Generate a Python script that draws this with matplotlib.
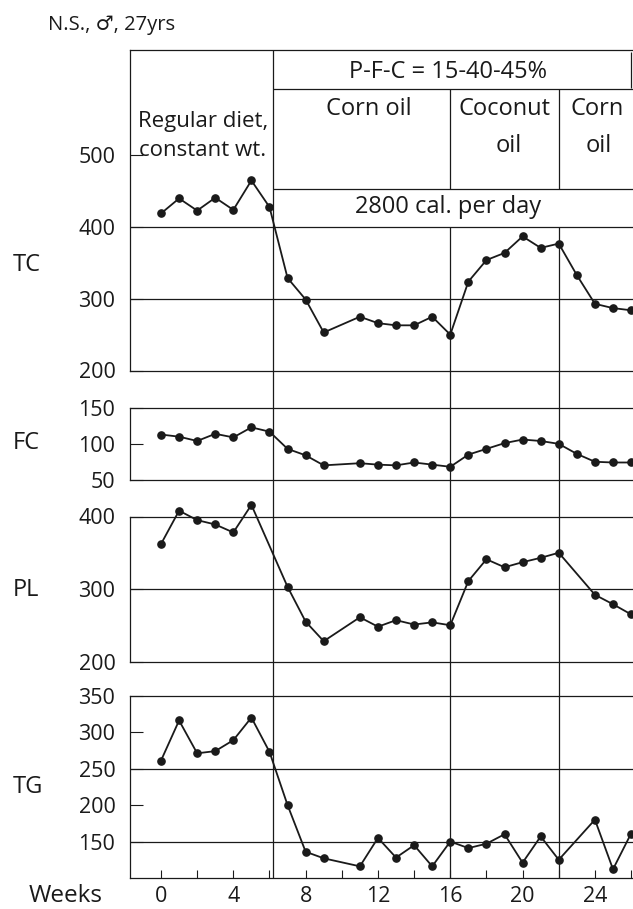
import matplotlib
matplotlib.use("Agg")
import matplotlib.pyplot as plt

plt.rcParams['font.family'] = ['Open Sans', 'DejaVu Sans']

# figure size in pixels and the week -> pixel mapping
W, H = 633, 909
PX0, PXW = 161.0, 18.08      # x pixel of week 0, pixels per week
AX_LEFT = 130                # left edge of the panels (px)

# --- data ---------------------------------------------------------------
weeks_tc = [0, 1, 2, 3, 4, 5, 6, 7, 8, 9, 11, 12, 13, 14, 15, 16, 17, 18,
            19, 20, 21, 22, 23, 24, 25, 26]
tc = [419, 440, 423, 441, 424, 465, 428, 329, 299, 253, 275, 266, 263, 263,
      275, 250, 324, 354, 364, 387, 371, 377, 333, 293, 287, 284]

weeks_fc = weeks_tc
fc = [113, 110, 104, 114, 109, 123, 117, 93, 84, 70, 73, 71, 70, 74, 71, 68,
      85, 93, 101, 106, 104, 100, 86, 75, 74, 74]

weeks_pl = [0, 1, 2, 3, 4, 5, 7, 8, 9, 11, 12, 13, 14, 15, 16, 17, 18, 19,
            20, 21, 22, 24, 25, 26]
pl = [362, 408, 395, 389, 378, 416, 303, 255, 228, 261, 248, 257, 251, 254,
      250, 311, 341, 330, 337, 343, 350, 292, 279, 265]

weeks_tg = [0, 1, 2, 3, 4, 5, 6, 7, 8, 9, 11, 12, 13, 14, 15, 16, 17, 18, 19,
            20, 21, 22, 24, 25, 26]
tg = [261, 316, 271, 274, 289, 320, 273, 200, 136, 127, 116, 155, 128, 145,
      116, 150, 141, 147, 160, 121, 157, 125, 180, 112, 161]

diet_breaks = [6.2, 16, 22]   # weeks where the diet changes
x_labels = [0, 4, 8, 12, 16, 20, 24]

# name, weeks, values, top px, bottom px, ylim, labelled ticks, grid lines, label y px
panels = [
    ("TC", weeks_tc, tc, 50, 370.5, (200, 647), [200, 300, 400, 500], [300, 400], 265),
    ("FC", weeks_fc, fc, 408, 479.7, (50, 150), [50, 100, 150], [], 443),
    ("PL", weeks_pl, pl, 516.5, 661.5, (200, 400), [200, 300, 400], [300], 590),
    ("TG", weeks_tg, tg, 695.7, 878, (100, 350), [150, 200, 250, 300, 350], [150, 250], 787),
]

INK = "#1a1a1a"
FS_TICK = 15.5
FS_LAB = 17
FS_HEAD = 17

fig = plt.figure(figsize=(W / 100, H / 100), dpi=100)
fig.patch.set_facecolor("white")


def put(px, py, s, **kw):
    """Place text using pixel coordinates measured from the top-left."""
    fig.text(px / W, 1 - py / H, s, color=INK, **kw)


x_lo = (AX_LEFT - PX0) / PXW
x_hi = (W - PX0) / PXW

axes = []
for name, wk, vals, top, bot, ylim, ticks, grid, lab_y in panels:
    ax = fig.add_axes([AX_LEFT / W, 1 - bot / H, (W - AX_LEFT) / W, (bot - top) / H])
    ax.set_facecolor("none")
    ax.plot(wk, vals, "-o", color=INK, lw=1.3, ms=5.2, zorder=3, clip_on=False)
    for g in grid:
        ax.axhline(g, color=INK, lw=0.9, zorder=1)
    ax.set_xlim(x_lo, x_hi)
    ax.set_ylim(*ylim)
    ax.set_yticks(ticks)
    ax.tick_params(axis="y", direction="in", length=9, width=0.8,
                   pad=10.5, labelsize=FS_TICK, colors=INK)
    ax.set_xticks([])
    for side in ("left", "top", "bottom"):
        ax.spines[side].set_linewidth(0.9)
        ax.spines[side].set_color(INK)
    ax.spines["right"].set_visible(False)
    put(13, lab_y, name, fontsize=FS_LAB, ha="left", va="center")
    axes.append(ax)

# week axis on the bottom panel only
ax_tg = axes[-1]
ax_tg.set_xticks(x_labels)
ax_tg.set_xticks(range(2, 27, 4), minor=True)
ax_tg.tick_params(axis="x", which="both", direction="in", length=6, width=0.8,
                  pad=6, labelsize=FS_TICK, colors=INK)
put(29, 896, "Weeks", fontsize=FS_LAB + 0.5, ha="left", va="center")

# overlay for the diet dividers and the header boxes: x in weeks, y in pixels
ov = fig.add_axes([0, 0, 1, 1], zorder=5)
ov.set_xlim(-PX0 / PXW, x_hi)
ov.set_ylim(H, 0)
ov.axis("off")
ov.patch.set_alpha(0)

ov.vlines(diet_breaks[0], 50, 878, color=INK, lw=0.9)
ov.vlines(diet_breaks[1:], 89, 189, color=INK, lw=0.9)
ov.vlines(diet_breaks[1:], 227, 878, color=INK, lw=0.9)
ov.hlines([89, 189], diet_breaks[0], x_hi, color=INK, lw=0.9)
ov.vlines(26.0, 52, 88, color=INK, lw=0.9)

# header text
put(48, 25, "N.S., \u2642, 27yrs", fontsize=14.5, ha="left", va="center")
put(203, 122, "Regular diet,", fontsize=FS_HEAD - 1, ha="center", va="center")
put(203, 150, "constant wt.", fontsize=FS_HEAD - 1, ha="center", va="center")
put(448, 72, "P-F-C = 15-40-45%", fontsize=FS_HEAD, ha="center", va="center")
put(369, 109, "Corn oil", fontsize=FS_HEAD, ha="center", va="center")
put(504, 109, "Coconut", fontsize=FS_HEAD, ha="center", va="center")
put(509, 146, "oil", fontsize=FS_HEAD, ha="center", va="center")
put(597, 109, "Corn", fontsize=FS_HEAD, ha="center", va="center")
put(599, 146, "oil", fontsize=FS_HEAD, ha="center", va="center")
put(448, 207, "2800 cal. per day", fontsize=FS_HEAD, ha="center", va="center")

fig.savefig("out.png", dpi=100)
